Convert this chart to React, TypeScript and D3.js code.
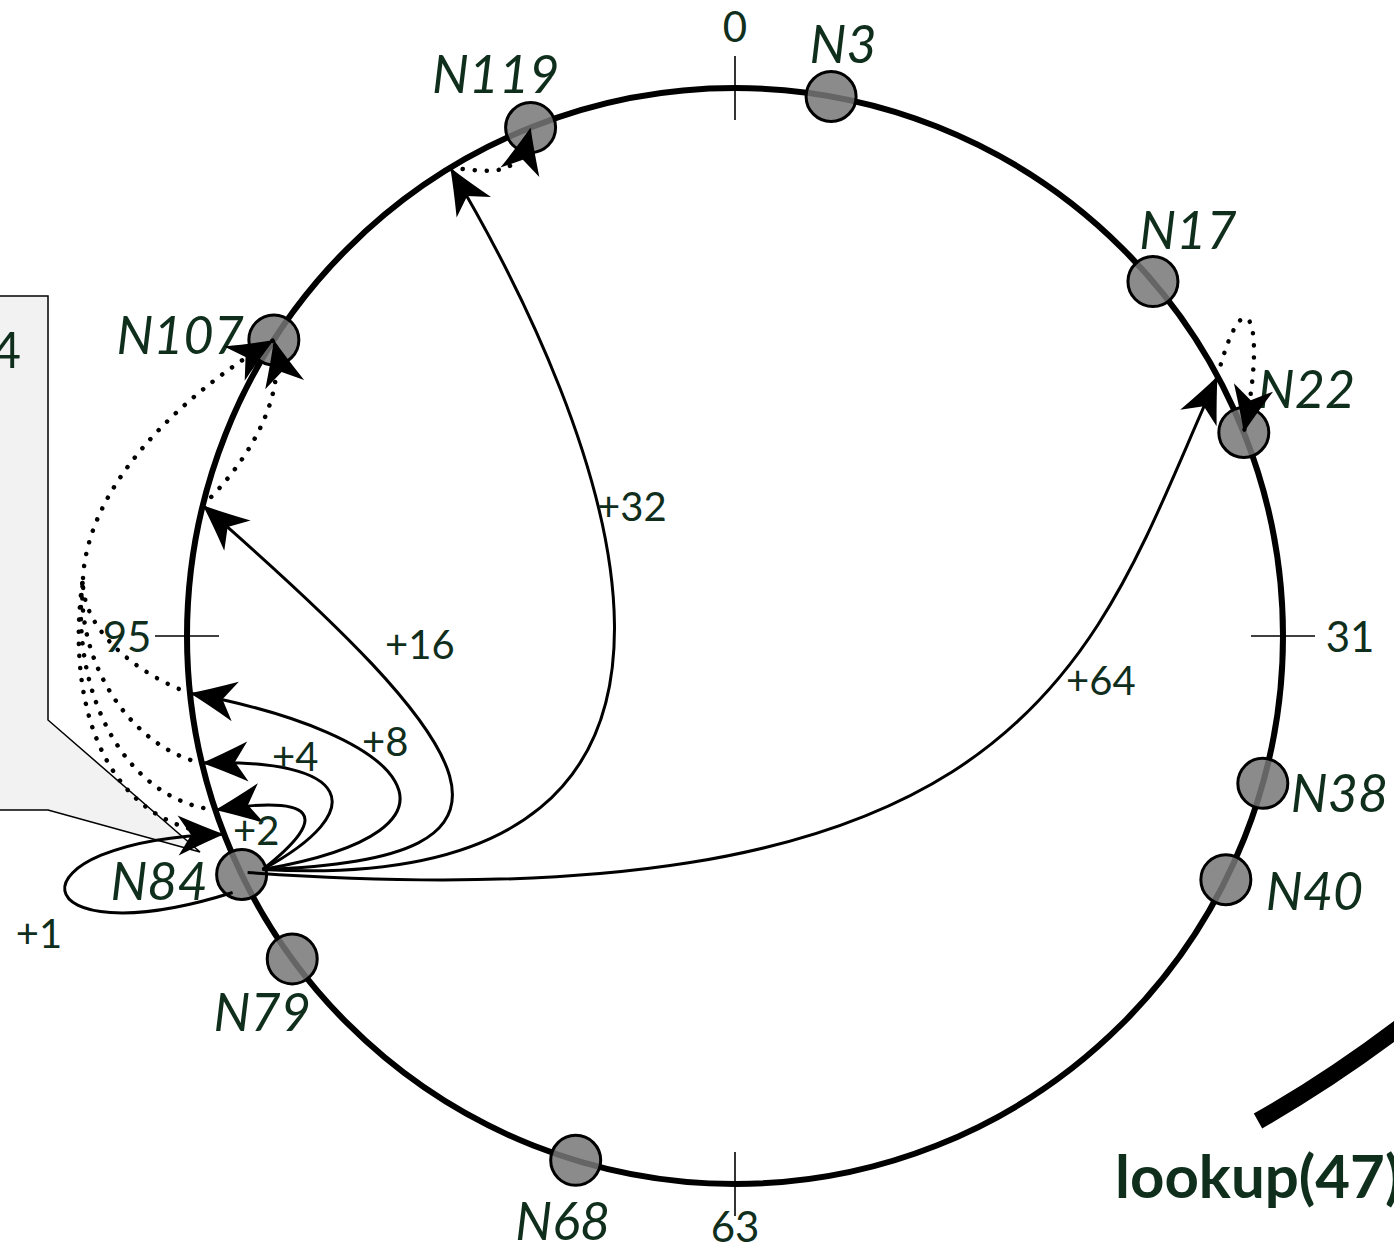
import * as d3 from "d3";

// ring nodes (id, and where they sit on the ring, degrees clockwise from the top)
const nodeIds = [3, 17, 22, 38, 40, 68, 79, 84, 107, 119];
const nodeAngles = [10.1, 49.7, 68.2, 105.6, 116.4, 196.9, 233.9, 244.2, 302.7, 338.1];

// finger table of N84
const sourceNode = 84;
const fingerOffsets = [1, 2, 4, 8, 16, 32, 64];
const fingerTargetAngles = [248.8, 251.5, 256.6, 264, 283.8, 328.7, 61.7];
const fingerSuccessors = [107, 107, 107, 107, 107, 119, 22];

// ring ticks
const tickAngles = [0, 90, 180, 270];
const tickLabels = ["0", "31", "63", "95"];

const lookupKey = 47;

// ---- layout ----
const W = 1394;
const H = 1251;
const cx = 735;
const cy = 636;
const R = 548;
const nodeR = 25;
const ink = "#0f2e1c";
const font = "Lato, 'Open Sans', sans-serif";

const angle = d3.scaleLinear().domain([0, 360]).range([0, 2 * Math.PI]);
const ringPt = (deg: number, r = R): [number, number] => {
  const [x, y] = d3.pointRadial(angle(deg), r);
  return [cx + x, cy + y];
};

// label offsets from node centre
const nodeLabel: Record<number, [number, number, string]> = {
  3: [12, -33, "middle"],
  17: [35, -33, "middle"],
  22: [14, -24, "start"],
  38: [28, 29, "start"],
  40: [40, 30, "start"],
  68: [-13, 80, "middle"],
  79: [-30, 72, "middle"],
  84: [-34, 25, "end"],
  107: [-30, 14, "end"],
  119: [-35, -35, "middle"],
};

// bezier handles for each finger: start offset from node, handle at start, handle at end
const fingerShape = [
  { s: [-9, 18], h1: [-212, 67], h2: [-224, 6] },
  { s: [21, -5], h1: [70, -55], h2: [100, -15] },
  { s: [21, -5], h1: [110, -60], h2: [150, -5] },
  { s: [21, -5], h1: [230, -40], h2: [220, 40] },
  { s: [21, -5], h1: [298, -10], h2: [280, 245] },
  { s: [21, -5], h1: [538, 30], h2: [150, 252] },
  { s: [6, -2], h1: [800, 57], h2: [-125, 274] },
];
const fingerLabel: [number, number, string][] = [
  [39, 948, "middle"],
  [233, 845, "start"],
  [272, 771, "start"],
  [362, 756, "start"],
  [385, 659, "start"],
  [597, 521, "start"],
  [1066, 695, "start"],
];
// dotted hop from finger target to successor node; "via" hops meet at a junction first
const junction: [number, number] = [83, 578];
const junctionOut = { h1: [5, -90], h2: [-100, 60] };
const hopShape = [
  { via: true, h1: [-110, -5], h2: [-20, 140] },
  { via: true, h1: [-90, -10], h2: [-14, 115] },
  { via: true, h1: [-70, -15], h2: [-8, 85] },
  { via: true, h1: [-55, -20], h2: [-3, 50] },
  { via: false, h1: [37, -35], h2: [15, 62] },
  { via: false, h1: [50, 5], h2: [-12, 50] },
  { via: false, h1: [28, -106], h2: [24, -112] },
];
const tickLabelR = [610, 615, 590, 608];

function curve(p0: number[], h1: number[], p3: number[], h2: number[]) {
  const p = d3.path();
  p.moveTo(p0[0], p0[1]);
  p.bezierCurveTo(p0[0] + h1[0], p0[1] + h1[1], p3[0] + h2[0], p3[1] + h2[1], p3[0], p3[1]);
  return p.toString();
}

const dotted = {
  fill: "none",
  stroke: "#000",
  strokeWidth: 4.5,
  strokeLinecap: "round" as const,
  strokeDasharray: "0.1 12",
};

export default function App() {
  const nodes = nodeIds.map((id, i) => ({ id, p: ringPt(nodeAngles[i]) }));
  const byId = new Map(nodes.map((n) => [n.id, n]));
  const src = byId.get(sourceNode)!;

  const fingers = fingerOffsets.map((off, i) => {
    const sh = fingerShape[i];
    const hs = hopShape[i];
    const p0 = [src.p[0] + sh.s[0], src.p[1] + sh.s[1]];
    const t = ringPt(fingerTargetAngles[i]);
    const succ = byId.get(fingerSuccessors[i])!;
    return {
      off,
      via: hs.via,
      succ,
      d: curve(p0, sh.h1, t, sh.h2),
      hop: curve(t, hs.h1, hs.via ? junction : succ.p, hs.h2),
    };
  });
  const viaSucc = fingers.find((f) => f.via)!.succ;
  const shared = curve(junction, junctionOut.h1, viaSucc.p, junctionOut.h2);

  return (
    <svg width={W} height={H} style={{ position: "absolute", left: 0, top: 0, background: "#fff" }}>
      <defs>
        <marker id="arr" markerUnits="userSpaceOnUse" viewBox="-50 -22 54 44" markerWidth={54} markerHeight={44} refX={0} refY={0} orient="auto">
          <path d="M0,0 Q-18,-7 -46,-20 L-33,0 L-46,20 Q-18,7 0,0Z" fill="#000" />
        </marker>
      </defs>

      {/* callout box */}
      <path d="M-10,296 L48,296 L48,720 L200,852 L48,810 L-10,810 Z" fill="#f2f2f2" stroke="#000" strokeWidth={1.5} />
      <text x={21} y={368} fontFamily={font} fontSize={50} fill={ink} textAnchor="end">4</text>

      {/* ring */}
      <circle cx={cx} cy={cy} r={R} fill="none" stroke="#000" strokeWidth={6} />
      {tickAngles.map((a, i) => {
        const [x1, y1] = ringPt(a, R - 32);
        const [x2, y2] = ringPt(a, R + 32);
        const [lx, ly] = ringPt(a, tickLabelR[i]);
        return (
          <g key={a}>
            <line x1={x1} y1={y1} x2={x2} y2={y2} stroke="#000" strokeWidth={1.6} />
            <text x={lx} y={ly} fontFamily={font} fontSize={42} fill={ink} textAnchor="middle" dominantBaseline="central">
              {tickLabels[i]}
            </text>
          </g>
        );
      })}

      {/* nodes */}
      {nodes.map((n) => {
        const [dx, dy, anchor] = nodeLabel[n.id];
        return (
          <g key={n.id}>
            <circle cx={n.p[0]} cy={n.p[1]} r={nodeR} fill="#777" fillOpacity={0.85} stroke="#000" strokeWidth={3} />
            <text x={n.p[0] + dx} y={n.p[1] + dy} fontFamily={font} fontStyle="italic" fontSize={52} fill={ink} textAnchor={anchor}>
              {"N" + n.id}
            </text>
          </g>
        );
      })}

      {/* dotted hops */}
      {fingers.map((f) => (
        <path key={"h" + f.off} d={f.hop} {...dotted} markerEnd={f.via ? undefined : "url(#arr)"} />
      ))}
      <path d={shared} {...dotted} markerEnd="url(#arr)" />

      {/* fingers */}
      {fingers.map((f, i) => (
        <g key={f.off}>
          <path d={f.d} fill="none" stroke="#000" strokeWidth={3} markerEnd="url(#arr)" />
          <text x={fingerLabel[i][0]} y={fingerLabel[i][1]} fontFamily={font} fontSize={40} fill={ink} textAnchor={fingerLabel[i][2]}>
            {"+" + f.off}
          </text>
        </g>
      ))}

      {/* lookup */}
      <path d="M1258,1121 Q1330,1080 1400,1027" fill="none" stroke="#000" strokeWidth={17} />
      <text x={1115} y={1198} fontFamily={font} fontWeight="bold" fontSize={60} fill={ink}>
        {`lookup(${lookupKey})`}
      </text>
    </svg>
  );
}
